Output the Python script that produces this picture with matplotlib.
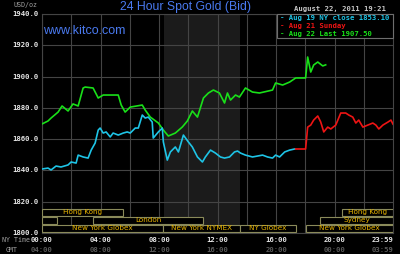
import matplotlib
matplotlib.use("Agg")
import matplotlib.pyplot as plt
from matplotlib.patches import Rectangle

# ---------------- data ----------------
green_t = [0.00, 0.41, 0.62, 1.10, 1.37, 1.78, 2.12, 2.47, 2.81, 2.95, 3.49, 3.84, 4.18, 5.21, 5.41,
           5.68, 6.03, 6.85, 7.05, 7.40, 7.95, 8.29, 8.63, 9.11, 9.59, 9.93, 10.27, 10.62, 11.03,
           11.37, 11.71, 12.12, 12.47, 12.67, 12.88, 13.22, 13.49, 13.90, 14.38, 14.86, 15.75,
           15.96, 16.44, 16.92, 17.33, 18.01, 18.15, 18.36, 18.56, 18.84, 19.18, 19.38]
green_v = [1869.7, 1871.6, 1873.5, 1877.3, 1881.2, 1878.0, 1882.5, 1881.2, 1892.7, 1893.3, 1892.7,
           1886.3, 1888.2, 1888.2, 1881.8, 1877.3, 1880.5, 1881.8, 1878.6, 1874.1, 1870.3, 1865.8,
           1862.0, 1863.9, 1867.8, 1871.6, 1878.0, 1874.1, 1886.3, 1889.5, 1891.4, 1889.5, 1883.1,
           1889.5, 1885.0, 1888.2, 1886.9, 1892.7, 1890.1, 1889.5, 1891.4, 1895.9, 1894.6, 1896.5,
           1899.1, 1899.1, 1912.5, 1902.9, 1907.4, 1909.3, 1906.8, 1907.5]

cyan_t = [0.00, 0.41, 0.62, 0.96, 1.30, 1.78, 1.99, 2.33, 2.47, 2.81, 3.15, 3.36, 3.63, 3.84, 3.97,
          4.18, 4.38, 4.66, 4.86, 5.21, 5.55, 5.82, 6.03, 6.37, 6.58, 6.85, 7.05, 7.26, 7.53, 7.60,
          7.95, 8.22, 8.29, 8.56, 8.77, 9.11, 9.32, 9.66, 10.00, 10.27, 10.62, 10.96, 11.16, 11.51,
          11.85, 12.19, 12.47, 12.81, 13.15, 13.36, 13.56, 13.90, 14.38, 15.07, 15.41, 15.75,
          15.96, 16.23, 16.58, 16.92, 17.26]
cyan_v = [1840.9, 1841.5, 1840.3, 1842.8, 1842.2, 1843.5, 1845.4, 1844.7, 1849.8, 1848.6, 1847.9,
          1853.0, 1857.5, 1865.8, 1867.1, 1863.9, 1864.6, 1861.4, 1863.9, 1862.6, 1863.9, 1864.6,
          1863.9, 1867.1, 1867.1, 1875.4, 1873.5, 1874.1, 1870.9, 1860.7, 1864.6, 1867.1, 1858.2,
          1846.6, 1851.8, 1855.0, 1851.8, 1862.6, 1858.2, 1855.0, 1848.6, 1845.4, 1848.6, 1853.0,
          1851.1, 1848.6, 1847.9, 1848.6, 1851.8, 1852.4, 1851.1, 1849.8, 1848.6, 1849.8, 1848.6,
          1847.9, 1849.8, 1848.6, 1851.8, 1853.0, 1853.7]

red_t = [17.33, 18.01, 18.15, 18.36, 18.56, 18.84, 19.04, 19.25, 19.52, 19.73, 20.07, 20.41, 20.75,
         20.96, 21.23, 21.44, 21.64, 21.92, 22.26, 22.60, 22.81, 23.01, 23.29, 23.63, 23.84, 23.98]
red_v = [1853.7, 1853.7, 1867.7, 1869.0, 1872.2, 1874.8, 1871.0, 1864.6, 1867.7, 1866.5, 1869.0,
         1876.7, 1876.7, 1875.4, 1874.1, 1870.3, 1872.2, 1867.7, 1869.0, 1870.3, 1869.0, 1866.5,
         1869.0, 1870.9, 1872.2, 1869.6]

y_ticks = [1800, 1820, 1840, 1860, 1880, 1900, 1920, 1940]
ny_tick_pos = [0, 4, 8, 12, 16, 20, 23.98]
ny_tick_labels = ["00:00", "04:00", "08:00", "12:00", "16:00", "20:00", "23:59"]
gmt_tick_labels = ["04:00", "08:00", "12:00", "16:00", "20:00", "00:00", "03:59"]

legend_labels = ["- Aug 19 NY close 1853.10", "- Aug 21 Sunday", "- Aug 22 Last 1907.50"]

# sessions: (row, start, end, label) row 0 = top
sessions = [
    (0, 0.0, 5.55, "Hong Kong"),
    (0, 20.5, 23.98, "Hong Kong"),
    (1, 0.0, 1.0, ""),
    (1, 3.5, 11.0, "London"),
    (1, 19.0, 23.98, "Sydney"),
    (2, 0.0, 8.3, "New York Globex"),
    (2, 8.3, 13.55, "New York NYMEX"),
    (2, 13.55, 17.35, "NY Globex"),
    (2, 18.05, 23.98, "New York Globex"),
]
shade = (8.33, 13.55)

# ---------------- style ----------------
BG = "#000000"
GRID = "#444444"
BLUE = "#4a7af0"
GREEN = "#19e019"
CYAN = "#1ec4e6"
RED = "#ee1414"
SESS_TXT = "#e8b400"
SESS_EDGE = "#8a8a5a"
MONO = "DejaVu Sans Mono"
FS = 5.2

fig = plt.figure(figsize=(4.0, 2.54), dpi=100, facecolor=BG)
L, R, T, B = 42, 393, 14, 233
ax = fig.add_axes([L / 400, 1 - B / 254, (R - L) / 400, (B - T) / 254])
ax.set_facecolor(BG)
ax.set_xlim(0, 23.98)
ax.set_ylim(1800, 1940)

ax.axvspan(shade[0], shade[1], color="#1b1b1b", zorder=0, lw=0)
for xg in range(0, 24, 2):
    ax.axvline(xg, color=GRID, lw=0.8, zorder=1)
for yg in y_ticks:
    ax.axhline(yg, color=GRID, lw=0.8, zorder=1)
for s in ax.spines.values():
    s.set_color(GRID)
    s.set_linewidth(0.8)
ax.set_xticks([])
ax.set_yticks([])

ax.plot(green_t, green_v, color=GREEN, lw=1.2, zorder=3)
ax.plot(cyan_t, cyan_v, color=CYAN, lw=1.2, zorder=3)
ax.plot(red_t, red_v, color=RED, lw=1.2, zorder=3)

# session bars (axes-fraction y, data x)
trans = ax.get_xaxis_transform()
ph = B - T
row_top = [(B - 208.5) / ph, (B - 216.5) / ph, (B - 224.5) / ph]
rh = 7.6 / ph
for row, s0, s1, lab in sessions:
    y0 = row_top[row] - rh
    ax.add_patch(Rectangle((s0, y0), s1 - s0, rh, transform=trans, facecolor=BG,
                           edgecolor=SESS_EDGE, lw=0.8, zorder=4))
    if lab:
        ax.text((s0 + s1) / 2, y0 + rh / 2, lab, transform=trans, color=SESS_TXT,
                fontsize=5.2, ha="center", va="center", zorder=5, family="DejaVu Sans")

# y labels
for v in y_ticks:
    yp = T + (1940 - v) * ph / 140
    fig.text(39 / 400, 1 - yp / 254, f"{v:.1f}", color="#e6e6e6", fontsize=FS,
             family=MONO, weight="bold", ha="right", va="center")

# x labels
for p, l1, l2 in zip(ny_tick_pos, ny_tick_labels, gmt_tick_labels):
    xp = L + p * (R - L) / 23.98
    ha = "center"
    if p > 23:
        xp = R
        ha = "right"
    fig.text(xp / 400, 1 - 240 / 254, l1, color="#e6e6e6", fontsize=FS, family=MONO,
             weight="bold", ha=ha, va="center")
    fig.text(xp / 400, 1 - 250 / 254, l2, color="#5a5a5a", fontsize=FS, family=MONO,
             weight="bold", ha=ha, va="center")

fig.text(2 / 400, 1 - 240 / 254, "NY Time", color="#a0a0a0", fontsize=4.8, family=MONO,
         ha="left", va="center")
fig.text(6 / 400, 1 - 250 / 254, "GMT", color="#a0a0a0", fontsize=4.8, family=MONO,
         ha="left", va="center")
fig.text(13 / 400, 1 - 5 / 254, "USD/oz", color="#a0a0a0", fontsize=4.8, family=MONO,
         ha="left", va="center")

fig.text(186 / 400, 1 - 7 / 254, "24 Hour Spot Gold (Bid)", color=BLUE, fontsize=8.8,
         family="Liberation Sans", ha="center", va="center")
fig.text(43 / 400, 1 - 31 / 254, "www.kitco.com", color=BLUE, fontsize=9.0,
         family="Liberation Sans", ha="left", va="center")
fig.text(386 / 400, 1 - 9 / 254, "August 22, 2011 19:21", color="#c8c8c8", fontsize=FS,
         family=MONO, weight="bold", ha="right", va="center")

# legend box
lx0 = (277 - L) / (R - L)
ly0 = (B - 38) / ph
ax.add_patch(Rectangle((lx0, ly0), 1 - lx0, 1 - ly0, transform=ax.transAxes, facecolor=BG,
                       edgecolor="#6e6e6e", lw=0.8, zorder=6, clip_on=False))
for yp, lab, col in zip([18, 26, 34], legend_labels, [CYAN, RED, GREEN]):
    fig.text(280 / 400, 1 - yp / 254, lab, color=col, fontsize=FS, family=MONO,
             weight="bold", ha="left", va="center", zorder=10)

fig.savefig("out.png", dpi=100, facecolor=BG)
